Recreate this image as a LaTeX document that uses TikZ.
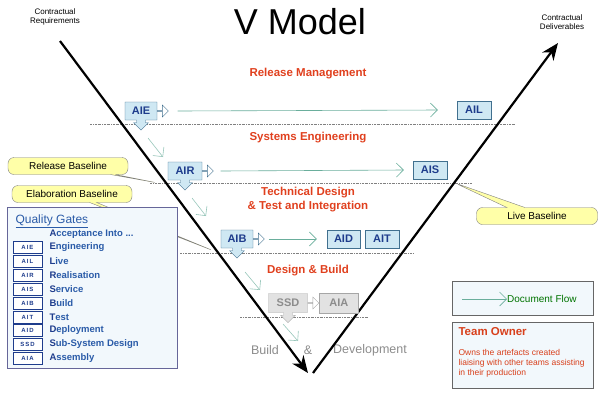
\documentclass[tikz,border=0pt]{standalone}
\usepackage{fontspec}
\setmainfont{Liberation Sans}
\usetikzlibrary{arrows.meta,positioning,shapes.arrows,shapes.callouts}
\definecolor{gatefill}{HTML}{CFE8F3}
\definecolor{gateline}{HTML}{41708F}
\definecolor{gatetext}{HTML}{1E3C8C}
\definecolor{phasered}{HTML}{E0401E}
\definecolor{flowgreen}{HTML}{6AAE9C}
\definecolor{notefill}{HTML}{FFFFA8}
\definecolor{qgblue}{HTML}{2A5BA8}
\definecolor{qgfill}{HTML}{F2F8FC}
\definecolor{greyfill}{HTML}{E2E2E2}
\definecolor{greytext}{HTML}{8C8C8C}
\definecolor{ownerred}{HTML}{D8401C}
\newcommand{\firstcap}[1]{\textcolor{gatetext}{#1}}
\tikzset{
  gate/.style={shape=arrow box, arrow box arrows={south:10pt}, arrow box shaft width=9pt,
    arrow box head extend=3pt, arrow box tip angle=90, draw=gateline, fill=gatefill,
    text=gatetext, font=\bfseries\fontsize{11}{11}\selectfont,
    minimum width=32pt, minimum height=18pt, inner sep=0pt},
  endbox/.style={rectangle, draw=gateline, fill=gatefill, text=gatetext,
    font=\bfseries\fontsize{11}{11}\selectfont, minimum width=34pt, minimum height=18pt, inner sep=0pt},
  greygate/.style={gate, draw=gray!70, fill=greyfill, text=greytext, minimum width=39pt, minimum height=19pt},
  greybox/.style={endbox, draw=gray!70, fill=greyfill, text=greytext, minimum width=39pt, minimum height=20pt},
  nextarrow/.style={single arrow, draw=gateline, fill=white, minimum height=11pt,
    minimum width=12pt, single arrow head extend=3pt, inner sep=0pt},
  flow/.style={draw=flowgreen, line width=0.6pt, -{Straight Barb[length=7pt,width=14pt]}},
  phase/.style={text=phasered, font=\bfseries\fontsize{11.5}{14}\selectfont, align=center},
  split/.style={draw=gray, line width=0.5pt, dash pattern=on 2pt off 1pt on 0.5pt off 1pt},
  baseline/.style={rectangle callout, rounded corners=6pt, draw=gray, fill=notefill,
    font=\fontsize{10}{10}\selectfont, minimum height=17pt, minimum width=120pt, callout pointer width=7pt},
  vline/.style={line width=2.2pt, -{Stealth[length=17pt,width=14pt]}},
  qgcode/.style={draw=gatetext, fill=white, text=gatetext, minimum width=29pt, minimum height=12.5pt,
    inner sep=0pt, font=\bfseries\fontsize{6}{6}\selectfont},
  qglabel/.style={anchor=west, text=qgblue, font=\bfseries\fontsize{9.5}{10}\selectfont},
}
\begin{document}
\begin{tikzpicture}[x=1pt,y=-1pt]
        \useasboundingbox (0,0) rectangle (600,400);
        \coordinate (reqtop) at (60,41);
        \coordinate (vbotl) at (308,373);
        \coordinate (vbotr) at (313,373);
        \coordinate (deltop) at (558,43);
        % headings
        \node[font=\fontsize{36}{36}\selectfont] (title) at (300,22) {V Model};
        \node[font=\fontsize{8}{9.5}\selectfont, align=center] (req) at (55,17) {Contractual\\Requirements};
        \node[font=\fontsize{8}{9.5}\selectfont, align=center] (deliv) at (562,22) {Contractual\\Deliverables};
        \node[phase] (relman) at (308,74) {Release Management};
        \node[phase] (syseng) at (308,138) {Systems Engineering};
        \node[phase] (techdes) at (308,200) {Technical Design\\\& Test and Integration};
        \node[phase] (desbuild) at (308,271) {Design \& Build};
        \node[text=greytext, font=\fontsize{12.5}{12.5}\selectfont] (bbuild) at (265,350) {Build};
        \node[text=greytext, font=\fontsize{12.5}{12.5}\selectfont] (bamp) at (308,350) {\&};
        \node[text=greytext, font=\fontsize{12.5}{12.5}\selectfont] (bdev) at (370,350) {Development};
        % phase borders
        \draw[split] (90,124) -- (515,124);
        \draw[split] (150,183) -- (472,183);
        \draw[split] (180,253) -- (413,253);
        \draw[split] (240,317) -- (368,317);
        % the V
        \draw[vline] (reqtop) -- (vbotl);
        \draw[vline] (vbotr) -- (deltop);
        % gates
        \node[gate] (aie) at (141,111) {AIE};
        \node[nextarrow, right=0pt of aie] (aiego) {};
        \node[endbox] (ail) at (474,110) {AIL};
        \draw[flow] ([xshift=9pt]aiego.east) -- ([xshift=-19pt]ail.west);
        \node[gate, minimum width=34pt] (air) at (185,171) {AIR};
        \node[nextarrow, right=0pt of air] (airgo) {};
        \node[endbox] (ais) at (430,170) {AIS};
        \draw[flow] ([xshift=7pt]airgo.east) -- ([xshift=-9pt]ais.west);
        \node[gate] (aib) at (237,239) {AIB};
        \node[nextarrow, right=0pt of aib] (aibgo) {};
        \node[endbox, minimum width=33pt] (aid) at (343.5,239) {AID};
        \node[endbox] (ait) at (382,239) {AIT};
        \draw[flow] ([xshift=4pt]aibgo.east) -- ([xshift=-10pt]aid.west);
        \node[greygate] (ssd) at (288,303) {SSD};
        \node[nextarrow, draw=gray!70, right=0pt of ssd] (ssdgo) {};
        \node[greybox, right=0pt of ssdgo] (aia) {AIA};
        % steps down the V
        \coordinate (d1s) at (148,138);
        \coordinate (d1e) at (163,157);
        \coordinate (d2s) at (192,198);
        \coordinate (d2e) at (206,216);
        \coordinate (d3s) at (245,272);
        \coordinate (d3e) at (260,290);
        \coordinate (d4s) at (283,324);
        \coordinate (d4e) at (298,341);
        \draw[flow, draw=flowgreen!70] (d1s) -- (d1e);
        \draw[flow, draw=flowgreen!70] (d2s) -- (d2e);
        \draw[flow, draw=flowgreen!70] (d3s) -- (d3e);
        \draw[flow, draw=flowgreen!70] (d4s) -- (d4e);
        % baselines
        \node[baseline, callout absolute pointer={(158,183)}, callout pointer width=5pt] (relbase) at (68,166) {Release Baseline};
        \node[baseline, callout absolute pointer={(214,251)}] (elabbase) at (72,194) {Elaboration Baseline};
        \node[baseline, callout absolute pointer={(455,183)}, callout pointer width=18pt, minimum width=121pt] (livebase) at (537,216) {Live Baseline};
        % quality gates
        \draw[draw=gray!80!blue, fill=qgfill] (7,207) rectangle (177,368);
        \node[anchor=west, text=qgblue, font=\fontsize{12}{12}\selectfont] (qgtitle) at (12,221) {\underline{Quality Gates}};
        \node[qglabel] (qgacc) at (46,234) {\firstcap{A}cceptance Into ...};
        \node[qgcode] (qaie) at (27.5,247) {A\,I\,E};
        \node[qgcode] (qail) at (27.5,261) {A\,I\,L};
        \node[qgcode] (qair) at (27.5,275) {A\,I\,R};
        \node[qgcode] (qais) at (27.5,289) {A\,I\,S};
        \node[qgcode] (qaib) at (27.5,303) {A\,I\,B};
        \node[qgcode] (qait) at (27.5,317) {A\,I\,T};
        \node[qgcode] (qaid) at (27.5,330) {A\,I\,D};
        \node[qgcode] (qssd) at (27.5,344) {S\,S\,D};
        \node[qgcode] (qaia) at (27.5,358) {A\,I\,A};
        \node[qglabel] at (46,247) {\firstcap{E}ngineering};
        \node[qglabel] at (46,261) {\firstcap{L}ive};
        \node[qglabel] at (46,275) {\firstcap{R}ealisation};
        \node[qglabel] at (46,289) {\firstcap{S}ervice};
        \node[qglabel] at (46,303) {\firstcap{B}uild};
        \node[qglabel] at (46,317) {\firstcap{T}est};
        \node[qglabel] at (46,330) {\firstcap{D}eployment};
        \node[qglabel] at (46,344) {\firstcap{S}ub-System Design};
        \node[qglabel] at (46,358) {\firstcap{A}ssembly};
        % legend
        \draw[draw=gray!80!black, fill=qgfill] (452,281) rectangle (593,315);
        \coordinate (dfs) at (462,299);
        \node[anchor=west, inner sep=0pt, text=green!45!black, font=\fontsize{10}{10}\selectfont] (dflow) at (507,299) {Document Flow};
        \draw[flow] (dfs) -- (dflow.west);
        \draw[draw=gray!80!black, fill=qgfill] (452,322) rectangle (593,388);
        \node[anchor=west, text=ownerred, font=\bfseries\fontsize{11.5}{11.5}\selectfont] (owner) at (455,332) {Team Owner};
        \node[anchor=north west, text=ownerred, align=left, font=\fontsize{8.5}{10}\selectfont] (ownerdesc) at (455,346) {Owns the artefacts created\\liaising with other teams assisting\\in their production};
    \end{tikzpicture}
\end{document}
